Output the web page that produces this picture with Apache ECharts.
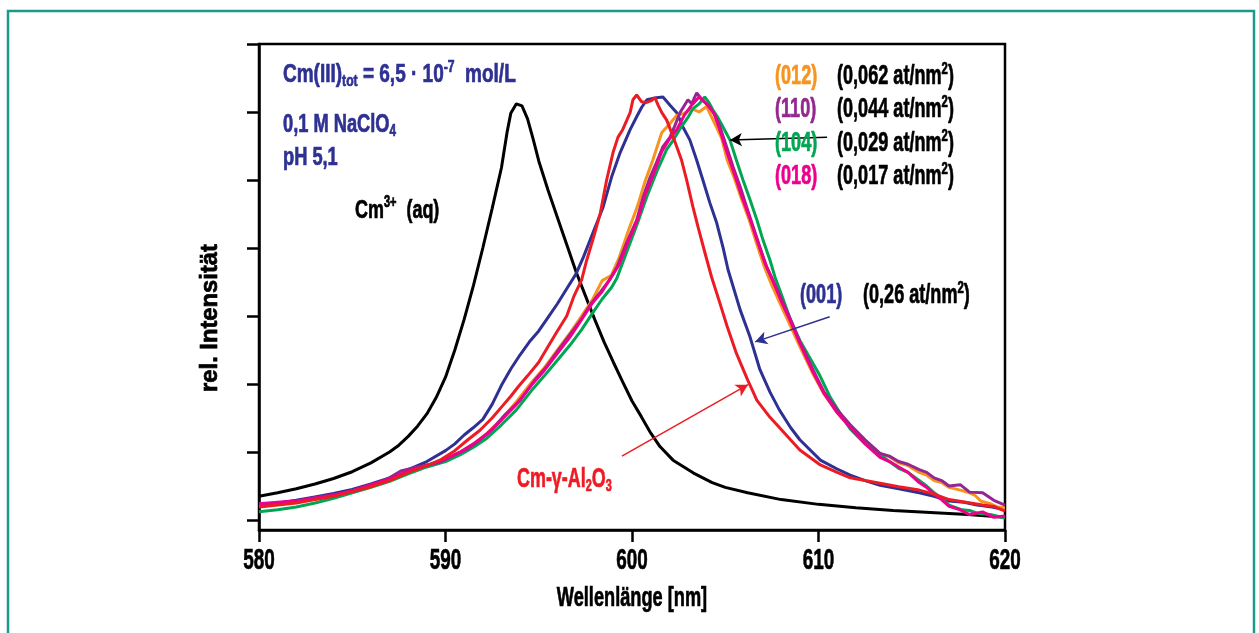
<!DOCTYPE html>
<html><head><meta charset="utf-8">
<script src="https://cdn.jsdelivr.net/npm/echarts@6/dist/echarts.min.js"></script>
<style>html,body{margin:0;padding:0;background:#fff}#c{width:1259px;height:633px}</style>
</head><body><div id="c"></div>
<script>
// ---- data (wavelength nm, relative intensity) ----
const xTicks = [580, 590, 600, 610, 620];
const yTicks = [0, 1, 2, 3, 4, 5, 6, 7];

const cmAq = [[580,0.35],[581,0.40],[582,0.46],[583,0.53],[584,0.61],[585,0.71],[586,0.84],[587,1.00],[587.5,1.10],[588,1.23],[588.5,1.38],[589,1.56],[589.5,1.80],[590,2.10],[590.5,2.50],[591,2.95],[591.5,3.45],[592,4.00],[592.5,4.58],[593,5.18],[593.3,5.70],[593.5,5.98],[593.8,6.12],[594.1,6.09],[594.4,5.90],[594.7,5.60],[595,5.28],[595.5,4.85],[596,4.45],[596.5,4.05],[597,3.65],[597.5,3.30],[598,2.95],[598.5,2.62],[599,2.32],[599.5,2.03],[600,1.75],[600.5,1.52],[601,1.28],[601.5,1.08],[602.2,0.88],[603.3,0.69],[604.3,0.55],[605,0.48],[606.2,0.40],[608,0.30],[610,0.23],[612,0.18],[614,0.14],[616,0.11],[618,0.08],[620,0.04]];

const s001 = [[580,0.22],[581,0.25],[582,0.29],[583,0.34],[584,0.39],[585,0.45],[586,0.53],[587,0.62],[588,0.74],[589,0.86],[590,1.02],[590.5,1.12],[591,1.25],[591.5,1.36],[592,1.48],[592.5,1.70],[593,1.98],[593.5,2.22],[594,2.43],[594.5,2.62],[595,2.78],[595.5,2.98],[596,3.18],[596.5,3.40],[597,3.62],[597.4,3.87],[597.9,4.22],[598.45,4.60],[598.9,5.04],[599.36,5.40],[599.9,5.74],[600.25,5.93],[600.52,6.07],[600.8,6.18],[601.3,6.21],[601.66,6.22],[602.04,6.10],[602.4,5.99],[602.73,5.78],[603.1,5.59],[603.47,5.29],[603.8,5.00],[604.18,4.66],[604.54,4.37],[604.88,4.01],[605.15,3.68],[605.8,3.09],[606.33,2.69],[606.86,2.21],[607.4,1.88],[607.9,1.62],[608.5,1.36],[609,1.18],[610.1,0.88],[611,0.75],[611.7,0.66],[612.5,0.58],[613.3,0.51],[614.3,0.46],[615.4,0.40],[616.2,0.35],[617,0.28],[617.8,0.26],[618.5,0.22],[619.3,0.19],[620,0.15]];

const alumina = [[580,0.19],[581,0.22],[582,0.25],[583,0.30],[584,0.35],[585,0.42],[586,0.49],[587,0.58],[588,0.70],[589,0.80],[589.7,0.88],[590.5,1.02],[591.2,1.18],[591.85,1.32],[592.5,1.50],[593,1.66],[593.5,1.82],[593.9,1.96],[594.4,2.12],[595,2.32],[595.5,2.55],[596,2.78],[596.5,3.00],[596.9,3.30],[597.3,3.53],[597.57,3.82],[597.9,4.12],[598.3,4.51],[598.64,5.00],[598.98,5.40],[599.25,5.63],[599.5,5.74],[599.9,5.99],[600.05,6.18],[600.25,6.25],[600.52,6.15],[600.79,6.14],[601.06,6.17],[601.23,6.21],[601.4,6.10],[601.6,5.99],[601.86,5.88],[602.13,5.69],[602.4,5.49],[602.66,5.29],[602.93,5.00],[603.27,4.60],[603.54,4.31],[603.91,3.93],[604.27,3.57],[604.7,3.20],[605.1,2.85],[605.6,2.45],[606.2,2.06],[606.7,1.76],[607.4,1.51],[607.94,1.35],[608.5,1.18],[609,1.03],[610.1,0.81],[611,0.70],[611.7,0.62],[612.5,0.58],[613.3,0.54],[614.3,0.49],[615.4,0.44],[616.2,0.38],[617,0.30],[617.9,0.26],[618.8,0.22],[619.4,0.20],[620,0.13]];

const s012 = [[580,0.20],[581,0.23],[582,0.26],[583,0.31],[584,0.35],[585,0.41],[586,0.50],[587,0.61],[588,0.74],[589,0.80],[590,0.88],[590.8,1.00],[591.5,1.12],[592.2,1.27],[593,1.48],[593.8,1.74],[594.6,2.02],[595.3,2.24],[596,2.50],[596.7,2.76],[597.3,3.00],[597.9,3.25],[598.4,3.52],[598.9,3.60],[599.3,3.85],[599.8,4.25],[600.3,4.62],[600.7,4.98],[601.1,5.28],[601.6,5.70],[602,5.82],[602.4,5.95],[602.8,5.98],[603.2,6.05],[603.6,6.00],[604,6.08],[604.4,5.85],[604.8,5.62],[605.1,5.30],[605.5,5.02],[605.9,4.70],[606.3,4.40],[606.7,4.05],[607.1,3.72],[607.5,3.45],[608,3.15],[608.5,2.85],[609,2.55],[609.7,2.15],[610.3,1.85],[611,1.58],[611.7,1.36],[612.5,1.15],[613.3,0.98],[613.8,0.93],[614.3,0.84],[614.8,0.80],[615.4,0.70],[615.8,0.66],[616.2,0.58],[616.6,0.55],[617,0.48],[617.6,0.44],[618.1,0.40],[618.4,0.36],[618.7,0.28],[619.2,0.24],[619.6,0.19],[620,0.18]];

const s110 = [[580,0.22],[581,0.25],[582,0.27],[583,0.33],[584,0.36],[585,0.42],[586,0.50],[587,0.62],[587.6,0.72],[588.5,0.78],[589.7,0.85],[590.5,0.96],[591.2,1.05],[591.85,1.18],[592.5,1.33],[593.2,1.55],[594,1.76],[594.8,2.06],[595.4,2.25],[596,2.48],[596.6,2.70],[597.2,2.92],[597.8,3.18],[598.3,3.35],[598.8,3.53],[599.2,3.72],[599.7,4.07],[600.25,4.41],[600.6,4.75],[600.97,5.04],[601.3,5.25],[601.66,5.49],[602.04,5.63],[602.3,5.80],[602.57,5.99],[603,6.18],[603.2,6.12],[603.47,6.28],[603.76,6.18],[604.18,6.07],[604.45,5.95],[604.72,5.78],[605.07,5.49],[605.42,5.19],[605.8,4.90],[606.15,4.60],[606.5,4.31],[606.86,4.01],[607.22,3.72],[607.6,3.50],[608,3.25],[608.5,2.95],[609,2.62],[609.7,2.21],[610.3,1.88],[611,1.62],[611.7,1.40],[612.5,1.18],[613.3,0.98],[613.8,0.94],[614.3,0.86],[614.8,0.82],[615.4,0.74],[615.8,0.70],[616.2,0.62],[616.6,0.58],[617,0.50],[617.6,0.52],[618.1,0.41],[618.8,0.40],[619.4,0.29],[620,0.22]];

const s104 = [[580,0.12],[581,0.15],[582,0.19],[583,0.25],[584,0.32],[585,0.40],[586,0.48],[587,0.57],[588,0.68],[589,0.78],[590,0.86],[590.8,0.96],[591.5,1.07],[592.2,1.20],[593,1.40],[593.8,1.62],[594.6,1.90],[595.3,2.12],[596,2.35],[596.7,2.58],[597.3,2.80],[597.9,3.05],[598.4,3.25],[598.9,3.42],[599.18,3.55],[599.7,3.93],[600.25,4.33],[600.79,4.75],[601.32,5.12],[601.86,5.45],[602.2,5.58],[602.57,5.75],[603,5.92],[603.27,6.05],[603.6,6.12],[603.9,6.22],[604.1,6.15],[604.34,6.03],[604.6,5.92],[604.88,5.78],[605.25,5.59],[605.6,5.29],[605.95,5.00],[606.33,4.71],[606.7,4.41],[607.02,4.12],[607.4,3.82],[607.67,3.57],[608.1,3.25],[608.5,2.94],[609,2.64],[609.5,2.40],[610.08,2.12],[610.6,1.82],[611.2,1.55],[611.7,1.34],[612.5,1.12],[613.3,0.96],[613.8,0.86],[614.3,0.76],[614.8,0.70],[615.4,0.58],[615.8,0.50],[616.2,0.40],[616.6,0.32],[617,0.22],[617.7,0.15],[618.1,0.14],[618.5,0.10],[619.2,0.08],[620,0.03]];

const s018 = [[580,0.24],[581,0.26],[582,0.28],[583,0.32],[584,0.37],[585,0.43],[586,0.52],[587,0.60],[588,0.72],[589,0.80],[590,0.90],[590.8,1.00],[591.5,1.12],[592.2,1.26],[593,1.47],[593.8,1.70],[594.6,1.98],[595.3,2.20],[596,2.45],[596.7,2.70],[597.3,2.95],[597.9,3.20],[598.4,3.36],[598.9,3.58],[599.3,3.75],[599.8,4.10],[600.3,4.42],[600.7,4.78],[601.1,5.05],[601.6,5.42],[602,5.60],[602.4,5.74],[602.8,5.95],[603.2,6.10],[603.6,6.22],[604,6.12],[604.4,5.98],[604.8,5.66],[605.1,5.40],[605.5,5.08],[605.9,4.75],[606.3,4.45],[606.7,4.12],[607.1,3.80],[607.5,3.55],[608,3.22],[608.5,2.92],[609,2.60],[609.7,2.18],[610.3,1.86],[611,1.58],[611.7,1.36],[612.5,1.12],[613.3,0.92],[613.8,0.86],[614.3,0.78],[614.8,0.70],[615.4,0.55],[615.8,0.48],[616.2,0.38],[616.6,0.30],[617,0.20],[617.6,0.15],[618.1,0.08],[618.8,0.12],[619.4,0.04],[620,0.06]];

// ---- styling ----
const FONT = '"Liberation Sans", Arial, sans-serif';
const C = {black:'#000000', blue:'#2e3192', red:'#ed1c24', orange:'#f7941d', purple:'#92278f', green:'#00a651', magenta:'#ec008c', teal:'#1a998c', navy:'#2e3192'};

function line(name, data, color, z){
  return {name, type:'line', data, showSymbol:false, symbol:'none', smooth:false, z:z||2,
    lineStyle:{color, width:3}, itemStyle:{color}, animation:false, silent:true};
}

const series = [
  line('Cm3+ (aq)', cmAq, C.black, 2),
  line('(001)', s001, C.blue, 3),
  line('(012)', s012, C.orange, 3),
  line('(104)', s104, C.green, 3),
  line('(110)', s110, C.purple, 3),
  line('(018)', s018, C.magenta, 3),
  line('Cm-γ-Al2O3', alumina, C.red, 4)
];
series[0].markLine = {
  silent:true, animation:false, symbol:['none','arrow'], symbolSize:[10,12], label:{show:false},
  data:[
    [{coord:[610.46,5.63], lineStyle:{color:C.black, width:1.5, type:'solid'}}, {coord:[605.25,5.59]}],
    [{coord:[610.6,2.99], lineStyle:{color:C.blue, width:1.5, type:'solid'}}, {coord:[606.6,2.62]}],
    [{coord:[599.46,0.94], lineStyle:{color:C.red, width:1.5, type:'solid'}}, {coord:[606.22,1.99]}]
  ]
};

function richSet(color, size){
  const s = Math.round(size*0.62);
  const common = {fontFamily:FONT, fontWeight:'bold', fill:color, color:color, stroke:color, lineWidth:0.7};
  return {
    n: Object.assign({fontSize:size}, common),
    sub: Object.assign({fontSize:s, padding:[Math.round(size*0.5),0,0,0]}, common),
    sup: Object.assign({fontSize:s, padding:[0,0,Math.round(size*0.6),0]}, common)
  };
}
// condensed text: scaled horizontally around its anchor
function T(x, y, text, color, size, sx, align, rot){
  return {type:'text', x, y, scaleX:sx, scaleY:1, rotation:rot||0, z:10, silent:true,
    style:{x:0, y:0, text, fill:color, rich:richSet(color,size), align:align||'left', verticalAlign:'middle'}};
}

const rowsY = [77, 110, 144, 177];
const legendLabels = ['(012)','(110)','(104)','(018)'];
const legendDens = ['0,062','0,044','0,029','0,017'];
const legendColors = [C.orange, C.purple, C.green, C.magenta];

const graphics = [
  {type:'rect', shape:{x:8, y:11, width:1246, height:640}, style:{fill:'none', stroke:C.teal, lineWidth:2.5}, silent:true, z:0},
  T(283, 75, '{n|Cm(III)}{sub|tot}{n| = 6,5 · 10}{sup|-7}{n|  mol/L}', C.navy, 25, 0.76),
  T(283, 125, '{n|0,1 M NaClO}{sub|4}', C.navy, 25, 0.73),
  T(283, 158, '{n|pH 5,1}', C.navy, 25, 0.73),
  T(355, 211, '{n|Cm}{sup|3+}{n|  (aq)}', C.black, 26, 0.69),
  T(800, 296, '{n|(001)}', C.blue, 27, 0.67),
  T(863, 296, '{n|(0,26 at/nm}{sup|2}{n|)}', C.black, 27, 0.67),
  T(517, 479, '{n|Cm-γ-Al}{sub|2}{n|O}{sub|3}', C.red, 28, 0.64),
  T(632, 598, '{n|Wellenlänge [nm]}', C.black, 28, 0.65, 'center'),
  T(210, 318, '{n|rel. Intensität}', C.black, 24, 0.99, 'center', Math.PI/2)
];
legendLabels.forEach((l,i)=>{
  graphics.push(T(775, rowsY[i], '{n|'+l+'}', legendColors[i], 27, 0.67));
  graphics.push(T(837, rowsY[i], '{n|('+legendDens[i]+' at/nm}{sup|2}{n|)}', C.black, 27, 0.67));
});

const chart = echarts.init(document.getElementById('c'), null, {renderer:'canvas'});
chart.setOption({
  animation:false,
  backgroundColor:'#fff',
  grid:{left:259, top:44, width:746, height:486, show:true, borderColor:'#000', borderWidth:2.5, backgroundColor:'transparent', containLabel:false},
  xAxis:{type:'value', min:xTicks[0], max:xTicks[xTicks.length-1], interval:10,
    axisLine:{show:true, onZero:false, lineStyle:{color:'#000', width:2.5}},
    axisTick:{show:true, inside:false, length:12, lineStyle:{color:'#000', width:2.5}},
    axisLabel:{show:false},
    splitLine:{show:false}},
  yAxis:{type:'value', min:-0.147, max:yTicks[yTicks.length-1],
    axisLine:{show:true, onZero:false, lineStyle:{color:'#000', width:2.5}},
    axisTick:{show:true, inside:false, length:12, lineStyle:{color:'#000', width:2.5}, customValues:yTicks},
    axisLabel:{show:false, customValues:yTicks},
    splitLine:{show:false}},
  series
});
// x tick labels placed through the axis scale
xTicks.forEach(v=>{
  const px = chart.convertToPixel({xAxisIndex:0}, v);
  graphics.push(T(px, 561, '{n|'+v+'}', C.black, 30, 0.63, 'center'));
});
chart.setOption({graphic:graphics});
</script></body></html>
